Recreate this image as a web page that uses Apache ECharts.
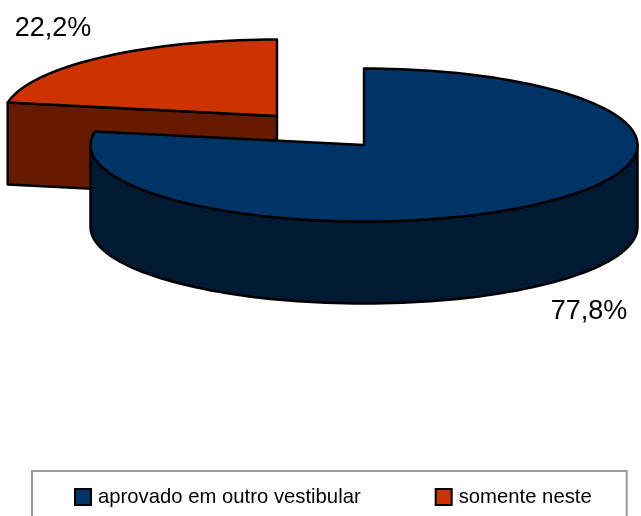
<!DOCTYPE html>
<html>
<head>
<meta charset="utf-8">
<script src="https://cdn.jsdelivr.net/npm/echarts@6/dist/echarts.min.js"></script>
<style>
html, body { margin: 0; padding: 0; background: #fff; }
#chart { width: 641px; height: 516px; }
</style>
</head>
<body>
<div id="chart"></div>
<script>
var categories = ['aprovado em outro vestibular', 'somente neste'];
var percents = [77.8, 22.2];

var topColors = ['#003366', '#cc3300'];
var sideColors = ['#001a33', '#661a00'];
// exploded centre of each slice, and where its label sits
var centers = [[364, 145], [277, 116]];
var labelPos = [[589, 312], [53, 29]];
var rx = 273.5, ry = 76.5, depth = 82;

var total = percents[0] + percents[1];

// angles run clockwise from 12 o'clock, flattened to an ellipse
function pt(c, deg, drop) {
    var r = deg * Math.PI / 180;
    return [c[0] + rx * Math.sin(r), c[1] - ry * Math.cos(r) + (drop || 0)];
}
function arc(c, a, b, drop) {
    var out = [];
    var n = Math.max(2, Math.ceil(Math.abs(b - a) / 2));
    for (var i = 0; i <= n; ++i) {
        out.push(pt(c, a + (b - a) * i / n, drop));
    }
    return out;
}

function renderSlice(idx) {
    return function (params, api) {
        var start = 0;
        for (var i = 0; i < idx; ++i) start += percents[i] / total * 360;
        var end = start + api.value(0) / total * 360;
        var c = centers[idx];
        var line = { stroke: '#000', lineWidth: 2.5, lineJoin: 'round' };
        var children = [];

        function poly(points, fill) {
            children.push({
                type: 'polygon',
                shape: { points: points },
                style: Object.assign({ fill: fill }, line)
            });
        }

        // cut face at the start of the slice, only if it looks at the viewer
        if (Math.sin(start * Math.PI / 180) < -0.001) {
            var p = pt(c, start), pd = pt(c, start, depth);
            poly([c, p, pd, [c[0], c[1] + depth]], sideColors[idx]);
        }
        // outer wall, front half only
        var a = Math.max(start, 90), b = Math.min(end, 270);
        if (b > a) {
            poly(arc(c, a, b, 0).concat(arc(c, b, a, depth)), sideColors[idx]);
        }
        // top face
        poly([c].concat(arc(c, start, end, 0)), topColors[idx]);

        children.push({
            type: 'text',
            style: {
                text: api.value(0).toFixed(1).replace('.', ',') + '%',
                x: labelPos[idx][0],
                y: labelPos[idx][1],
                fill: '#000',
                font: '27px "Liberation Sans"',
                align: 'center',
                verticalAlign: 'middle'
            }
        });
        return { type: 'group', children: children };
    };
}

var myChart = echarts.init(document.getElementById('chart'));
var option = {
    animation: false,
    backgroundColor: '#fff',
    legend: {
        left: 32,
        top: 471,
        orient: 'horizontal',
        padding: [16, 35, 40, 42],
        itemGap: 74,
        itemWidth: 16,
        itemHeight: 16,
        icon: 'rect',
        borderColor: '#999',
        borderWidth: 2,
        selectedMode: false,
        textStyle: { fontFamily: '"Liberation Sans"', fontSize: 20.3, color: '#000', padding: [0, 0, 0, 2] },
        data: [
            { name: categories[0], itemStyle: { color: topColors[0], borderColor: '#000', borderWidth: 2 } },
            { name: categories[1], itemStyle: { color: topColors[1], borderColor: '#000', borderWidth: 2 } }
        ]
    },
    series: [
        // red goes first, the big blue slice overlaps it
        { type: 'custom', name: categories[1], coordinateSystem: 'none', silent: true, renderItem: renderSlice(1), data: [[percents[1]]] },
        { type: 'custom', name: categories[0], coordinateSystem: 'none', silent: true, renderItem: renderSlice(0), data: [[percents[0]]] }
    ]
};
myChart.setOption(option);
</script>
</body>
</html>
